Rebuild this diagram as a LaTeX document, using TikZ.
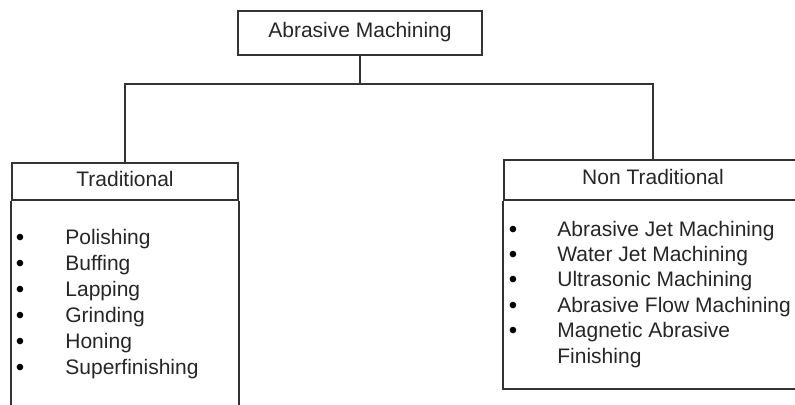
\documentclass[tikz,border=0pt]{standalone}
\usepackage{fontspec}
\setmainfont{Liberation Sans}
\usetikzlibrary{positioning}

\tikzset{
  head/.style={draw=black!80, line width=0.9pt, inner sep=0pt,
    text height=0.73em, text depth=0.26em, text=black!85},
  item/.style={anchor=base west, inner sep=0pt, text=black!85},
  dot/.style={anchor=base, inner sep=0pt, text=black, font=\fontsize{12}{14}\selectfont},
  link/.style={draw=black!80, line width=0.9pt}
}

\begin{document}
\begin{tikzpicture}[x=0.5pt, y=-0.5pt, font=\fontsize{10.5}{12}\selectfont]
    \useasboundingbox (0,0) rectangle (795,405);
    \clip (0,0) rectangle (795,405);
    % boxes
    \node[head, minimum width=122pt, minimum height=22pt] (top) at (360,33) {Abrasive Machining};
    \node[head, minimum width=113pt, minimum height=18.5pt] (trad) at (125,181.5) {Traditional};
    \node[head, minimum width=149pt, minimum height=20pt] (nontrad) at (653,180) {Non Traditional};
    \draw[link] (trad.south west) -- ++(0,240);
    \draw[link] (trad.south east) -- ++(0,240);
    \draw[link] (nontrad.south west) -- ++(0,188) -| (nontrad.south east);
    % connectors
    \coordinate (split) at (360,84);
    \draw[link] (top.south) -- (split) -| (trad.north);
    \draw[link] (split) -| (nontrad.north);
    % lists
    \foreach \name [count=\i] in {Polishing, Buffing, Lapping, Grinding, Honing, Superfinishing} {
        \node[dot] (tb-\i) at (20,219+26*\i) {•};
        \node[item] (t-\i) at (65,218+26*\i) {\name};
    }
    \foreach \name [count=\i] in {Abrasive Jet Machining, Water Jet Machining, Ultrasonic Machining,
        Abrasive Flow Machining, Magnetic Abrasive} {
        \node[dot] (nb-\i) at (513,211.6+25.4*\i) {•};
        \node[item] (n-\i) at (557,210.6+25.4*\i) {\name};
    }
    \node[item] (n-6) at (557,363) {Finishing};
\end{tikzpicture}
\end{document}
